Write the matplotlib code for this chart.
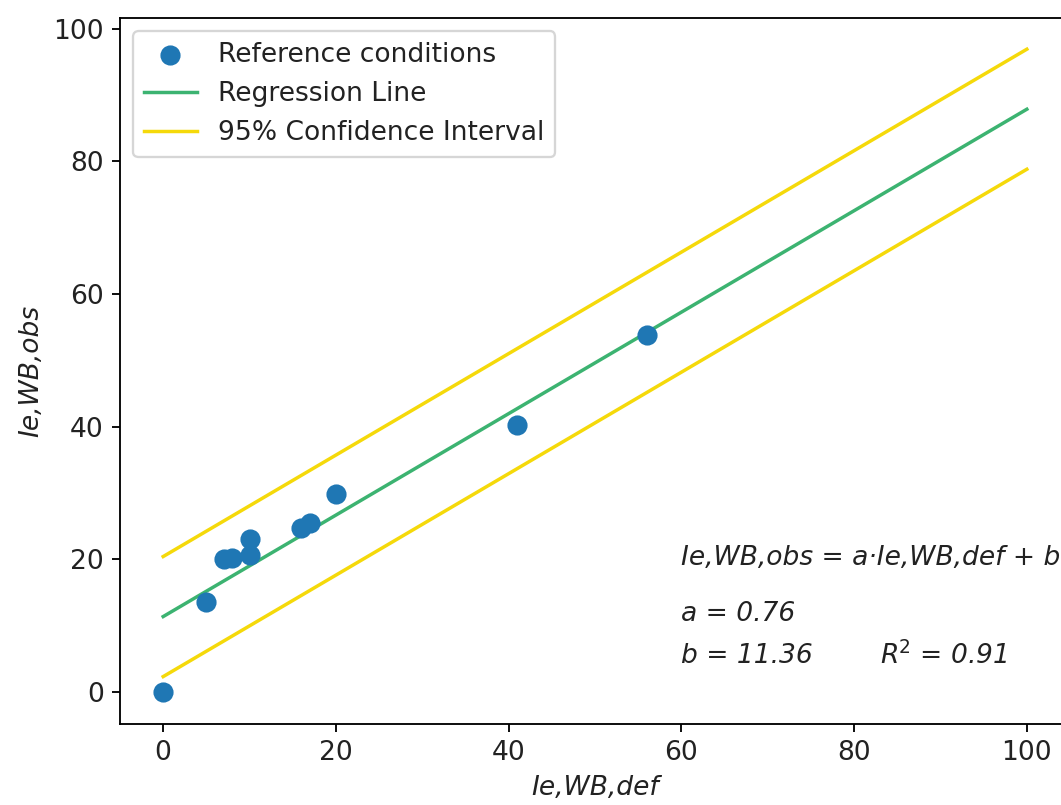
import numpy as np
import matplotlib
matplotlib.use("Agg")
import matplotlib.pyplot as plt

x_def = [0, 5, 7, 8, 10, 10, 16, 17, 20, 41, 56]
y_obs = [0, 13.5, 20.0, 20.2, 23.0, 20.6, 24.7, 25.4, 29.9, 40.2, 53.8]

# fit as printed on the chart (slope drawn is ~0.765, shown rounded)
a, b, r2 = 0.7649, 11.36, 0.91
x_line = [0, 100]
ci_half = 9.05

plt.rcParams["font.size"] = 11.5
plt.rcParams["text.color"] = "#222222"
plt.rcParams["axes.labelcolor"] = "#222222"
plt.rcParams["xtick.labelcolor"] = "#222222"
plt.rcParams["ytick.labelcolor"] = "#222222"

DPI = 166
fig = plt.figure(figsize=(1061 / DPI, 805 / DPI), dpi=DPI)
ax = fig.add_axes([0.1131, 0.1006, 0.8954, 0.877])

ax.scatter(x_def, y_obs, s=60, color="#1f77b4", label="Reference conditions", zorder=3)
xl = np.array(x_line)
fit = a * xl + b
ax.plot(xl, fit, color="#3cb371", lw=1.5, label="Regression Line")
ax.plot(xl, fit + ci_half, color="#f5d90a", lw=1.5, label="95% Confidence Interval")
ax.plot(xl, fit - ci_half, color="#f5d90a", lw=1.5)

ax.set_xlim(-5, 105)
ax.set_ylim(-4.84, 101.6)
ax.set_xticks([0, 20, 40, 60, 80, 100])
ax.set_yticks([0, 20, 40, 60, 80, 100])

ax.set_xlabel("Ie,WB,def", style="italic")
ax.set_ylabel("Ie,WB,obs", style="italic")

ax.text(60, 20.2, "Ie,WB,obs = a\u00b7Ie,WB,def + b", style="italic", va="center")
ax.text(60, 11.8, f"a = {a:.2f}", style="italic", va="center")
ax.text(60, 5.4, f"b = {b:.2f}", style="italic", va="center")
ax.text(83, 5.4, f"R$^2$ = {r2:.2f}", style="italic", va="center")

ax.legend(loc="upper left")

fig.savefig("out.png", dpi=DPI)
